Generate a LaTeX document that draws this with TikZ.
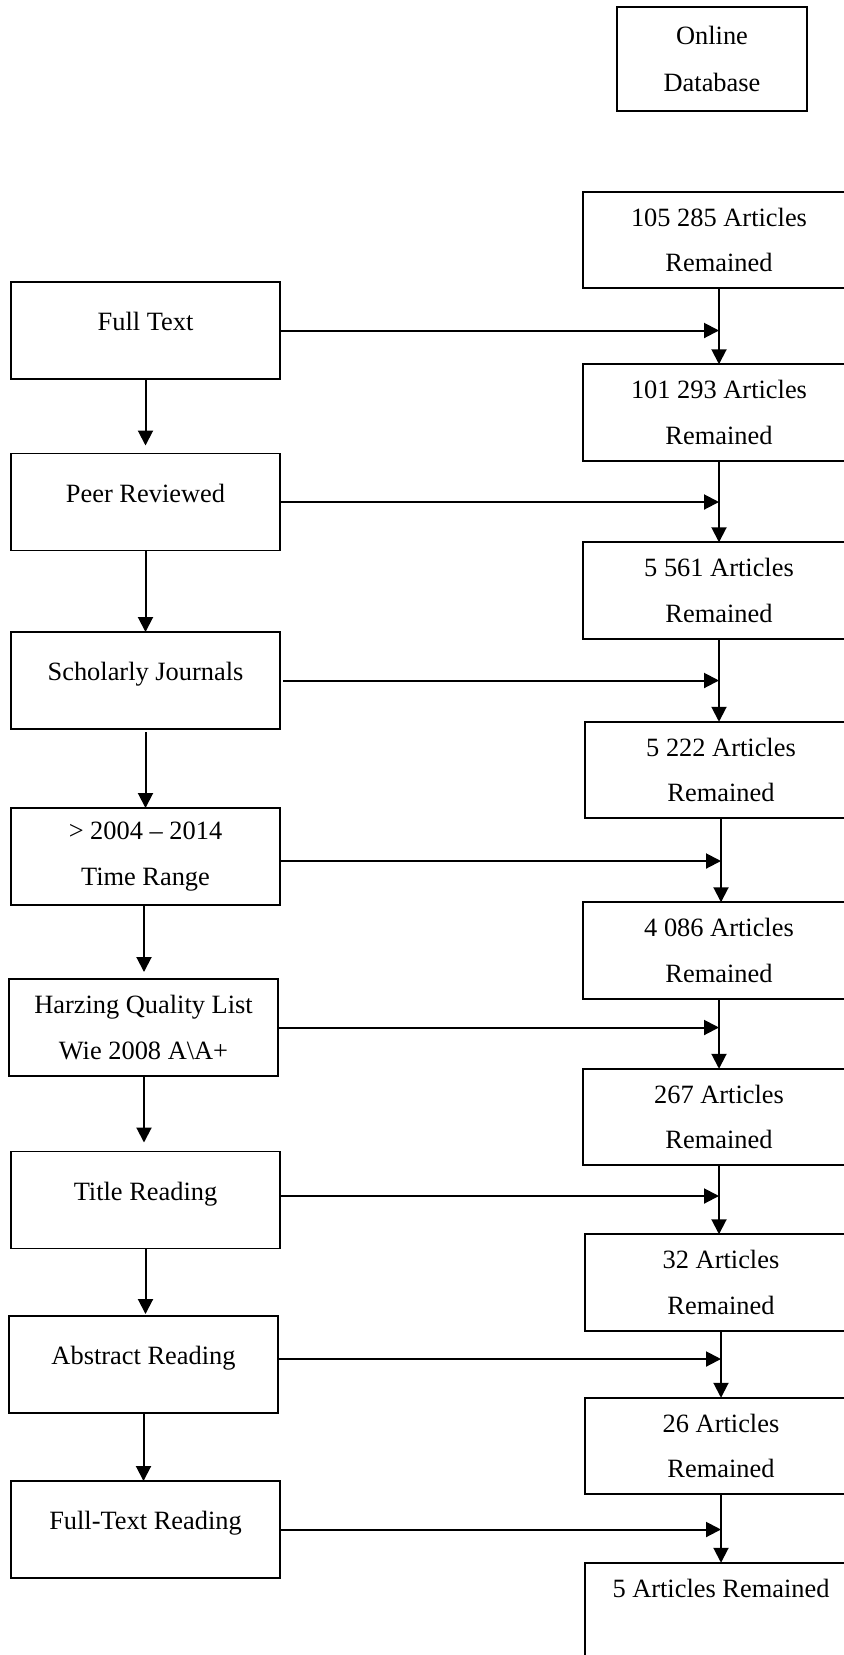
\documentclass[tikz,border=0pt]{standalone}
\usepackage{fontspec}
\setmainfont{Liberation Serif}
\usetikzlibrary{arrows.meta}
\begin{document}
\begin{tikzpicture}[x=0.5pt,y=-0.5pt,
  box/.style={draw=black,line width=0.9pt,rectangle,inner sep=0pt,outer sep=0pt,align=center,
    font=\fontsize{13.2}{22.75}\selectfont},
  lbox/.style={box,minimum width=134.5pt,minimum height=48.5pt},
  lone/.style={lbox,text height=8pt,text depth=8pt},
  rbox/.style={box,minimum width=136pt,minimum height=48.25pt},
  arr/.style={line width=1pt,-{Triangle[length=7.5pt,width=7.5pt]}}]
\useasboundingbox (0,0) rectangle (844,1655);
\clip (0,0) rectangle (844,1655);
% online database
\node[box,minimum width=95pt,minimum height=52pt,font=\fontsize{13.2}{23.5}\selectfont] (ON) at (712,59) {Online\\Database};
% left column
\node[lone] (FT)  at (145.5,330.5) {Full Text};
\node[lone] (PR)  at (145.5,502)   {Peer Reviewed};
\node[lone] (SJ)  at (145.5,680.5) {Scholarly Journals};
\node[lbox,font=\fontsize{13.2}{23}\selectfont] (TR)  at (145.5,856.5) {> 2004 -- 2014\\Time Range};
\node[lbox,font=\fontsize{13.2}{23}\selectfont] (HQ)  at (143.5,1027.5) {Harzing Quality List\\Wie 2008 A\textbackslash A+};
\node[lone] (TiR) at (145.5,1200)  {Title Reading};
\node[lone] (AR)  at (143.5,1364.5) {Abstract Reading};
\node[lone] (FTR) at (145.5,1529.5) {Full-Text Reading};
% right column
\node[rbox] (R0) at (719,240)    {105 285 Articles\\Remained};
\node[rbox] (R1) at (719,412.5)  {101 293 Articles\\Remained};
\node[rbox] (R2) at (719,590.5)  {5 561 Articles\\Remained};
\node[rbox] (R3) at (721,770)    {5 222 Articles\\Remained};
\node[rbox] (R4) at (719,950.5)  {4 086 Articles\\Remained};
\node[rbox] (R5) at (719,1117)   {267 Articles\\Remained};
\node[rbox] (R6) at (721,1282.5) {32 Articles\\Remained};
\node[rbox] (R7) at (721,1446)   {26 Articles\\Remained};
\node[rbox] (R8) at (721,1611)   {5 Articles Remained\\\mbox{}};
% right vertical arrows
\foreach \a/\b in {R0/R1,R1/R2,R2/R3,R3/R4,R4/R5,R5/R6,R6/R7,R7/R8}
  \draw[arr] (\a.south) -- (\a.south |- \b.north);
% left vertical arrows
\draw[arr,shorten >=4pt] (FT.south) -- (PR.north);
\draw[arr] (PR.south) -- (PR.south |- SJ.north);
\draw[arr,shorten <=1.5pt] (SJ.south) -- (SJ.south |- TR.north);
\draw[arr,shorten >=3.5pt] ([xshift=-0.75pt]TR.south) -- ([xshift=-0.75pt]TR.south |- HQ.north);
\draw[arr,shorten >=4.5pt] ([xshift=0.25pt]HQ.south) -- ([xshift=0.25pt]HQ.south |- TiR.north);
\draw[arr,shorten >=1pt] (TiR.south) -- (TiR.south |- AR.north);
\draw[arr] (AR.south) -- (AR.south |- FTR.north);
% horizontal arrows
\coordinate (hFT)  at (FT.east);
\coordinate (hPR)  at (PR.east);
\coordinate (hSJ)  at ([xshift=1.5pt]SJ.east);
\coordinate (hTR)  at ([yshift=-2.25pt]TR.east);
\coordinate (hHQ)  at (HQ.east);
\coordinate (hTiR) at ([yshift=2pt]TiR.east);
\coordinate (hAR)  at ([yshift=2.75pt]AR.east);
\coordinate (hFTR) at (FTR.east);
\draw[arr] (hFT)  -- (hFT -| R0.south);
\draw[arr] (hPR)  -- (hPR -| R1.south);
\draw[arr] (hSJ)  -- (hSJ -| R2.south);
\draw[arr] (hTR)  -- (hTR -| R3.south);
\draw[arr] (hHQ)  -- (hHQ -| R4.south);
\draw[arr] (hTiR) -- (hTiR -| R5.south);
\draw[arr] (hAR)  -- (hAR -| R6.south);
\draw[arr] (hFTR) -- (hFTR -| R7.south);
\end{tikzpicture}
\end{document}
